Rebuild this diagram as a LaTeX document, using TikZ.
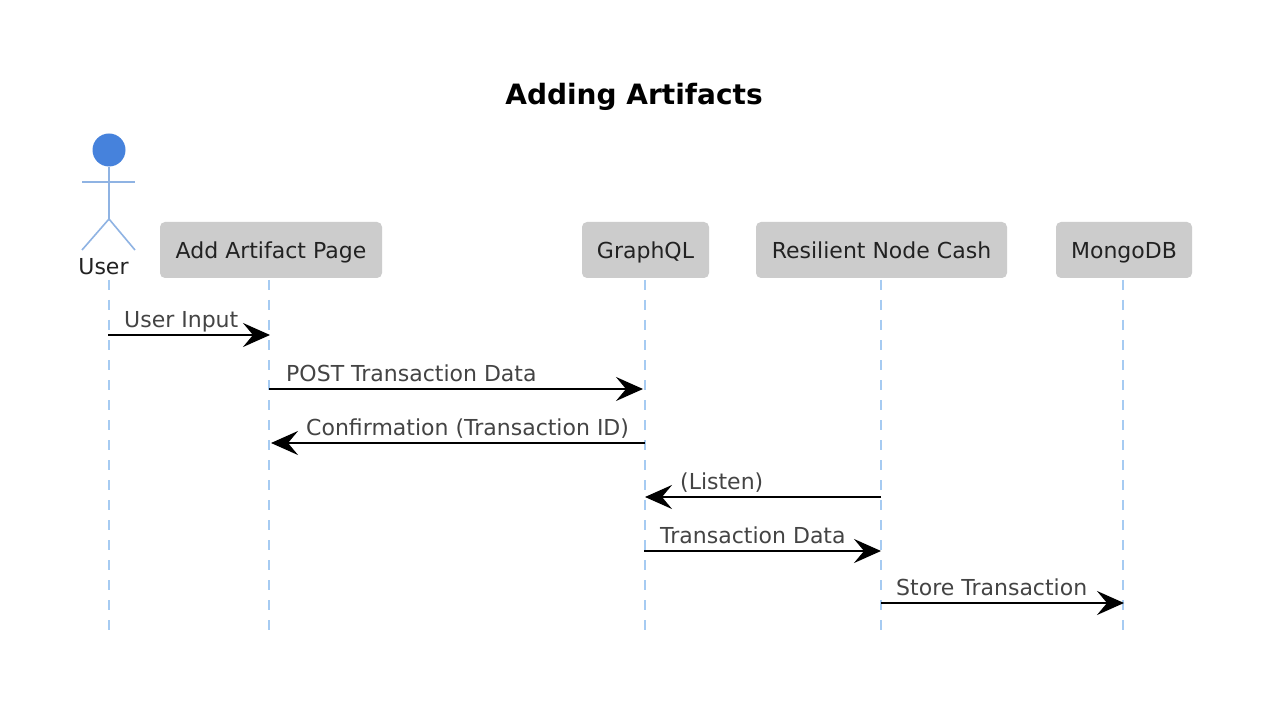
\documentclass[tikz,border=0pt]{standalone}
\usepackage{fontspec}
\setmainfont{DejaVu Sans}
\usetikzlibrary{arrows.meta}
\definecolor{lifec}{HTML}{A6CBF2}
\definecolor{actorc}{HTML}{8FB3E3}
\definecolor{headc}{HTML}{4682DC}
\definecolor{boxc}{HTML}{CCCCCC}
\definecolor{txtc}{HTML}{222222}
\definecolor{msgc}{HTML}{444444}
\tikzset{
  partbox/.style={fill=boxc,rounded corners=5pt,inner sep=0pt,text=txtc,font=\fontsize{22}{26}\selectfont,text height=23pt,text depth=5pt,minimum height=56pt,anchor=center},
  lifeline/.style={draw=lifec,line width=1.6pt,dash pattern=on 10pt off 10pt},
  msg/.style={draw=black,line width=2.2pt,-{Stealth[length=27pt,width=24pt,inset=10pt]}},
  msglabel/.style={inner sep=0pt,anchor=base west,text=msgc,font=\fontsize{22}{26}\selectfont},
  actorline/.style={draw=actorc,line width=1.6pt},
}
\begin{document}
\begin{tikzpicture}[x=1pt,y=-1pt]
\useasboundingbox (0,0) rectangle (1284,708);
\fill[white] (0,0) rectangle (1284,708);
\node[inner sep=0pt,anchor=base,font=\fontsize{28}{32}\selectfont\bfseries] (title) at (634,105) {Adding Artifacts};
% actor
\node[circle,fill=headc,inner sep=0pt,minimum size=33pt] (head) at (109,150) {};
\coordinate (hip) at (109,219);
\coordinate (armL) at (82,182);
\coordinate (armR) at (135,182);
\coordinate (legL) at (82,250);
\coordinate (legR) at (135,250);
\draw[actorline] (head.south) -- (hip);
\draw[actorline] (armL) -- (armR);
\draw[actorline] (legL) -- (hip) -- (legR);
\node[inner sep=0pt,anchor=base,text=txtc,font=\fontsize{22}{26}\selectfont] (userlbl) at (103.5,275) {User};
% participants
\node[partbox,minimum width=222pt] (page) at (271,250) {Add Artifact Page};
\node[partbox,minimum width=127pt] (gql) at (645.5,250) {GraphQL};
\node[partbox,minimum width=251pt] (cash) at (881.5,250) {Resilient Node Cash};
\node[partbox,minimum width=136pt] (mongo) at (1124,250) {MongoDB};
% lifelines
\coordinate (uT) at (109,280); \coordinate (uB) at (109,630);
\coordinate (pT) at (269,280); \coordinate (pB) at (269,630);
\coordinate (gT) at (645,280); \coordinate (gB) at (645,630);
\coordinate (cT) at (881,280); \coordinate (cB) at (881,630);
\coordinate (mT) at (1123,280); \coordinate (mB) at (1123,630);
\draw[lifeline] (uT) -- (uB);
\draw[lifeline] (pT) -- (pB);
\draw[lifeline] (gT) -- (gB);
\draw[lifeline] (cT) -- (cB);
\draw[lifeline] (mT) -- (mB);
% messages
\coordinate (u1) at (108,335); \coordinate (p1) at (270,335);
\coordinate (p2) at (269,389); \coordinate (g2) at (643,389);
\coordinate (g3) at (645,443); \coordinate (p3) at (271,443);
\coordinate (c4) at (881,497); \coordinate (g4) at (645,497);
\coordinate (g5) at (644,551); \coordinate (c5) at (881,551);
\coordinate (c6) at (881,603); \coordinate (m6) at (1124,603);
\draw[msg] (u1) -- (p1);
\draw[msg] (p2) -- (g2);
\draw[msg] (g3) -- (p3);
\draw[msg] (c4) -- (g4);
\draw[msg] (g5) -- (c5);
\draw[msg] (c6) -- (m6);
\node[msglabel] (l1) at (124,327) {User Input};
\node[msglabel] (l2) at (286,381) {POST Transaction Data};
\node[msglabel] (l3) at (306,435) {Confirmation (Transaction ID)};
\node[msglabel] (l4) at (680,489) {(Listen)};
\node[msglabel] (l5) at (660,543) {Transaction Data};
\node[msglabel] (l6) at (896,595) {Store Transaction};
\end{tikzpicture}
\end{document}
